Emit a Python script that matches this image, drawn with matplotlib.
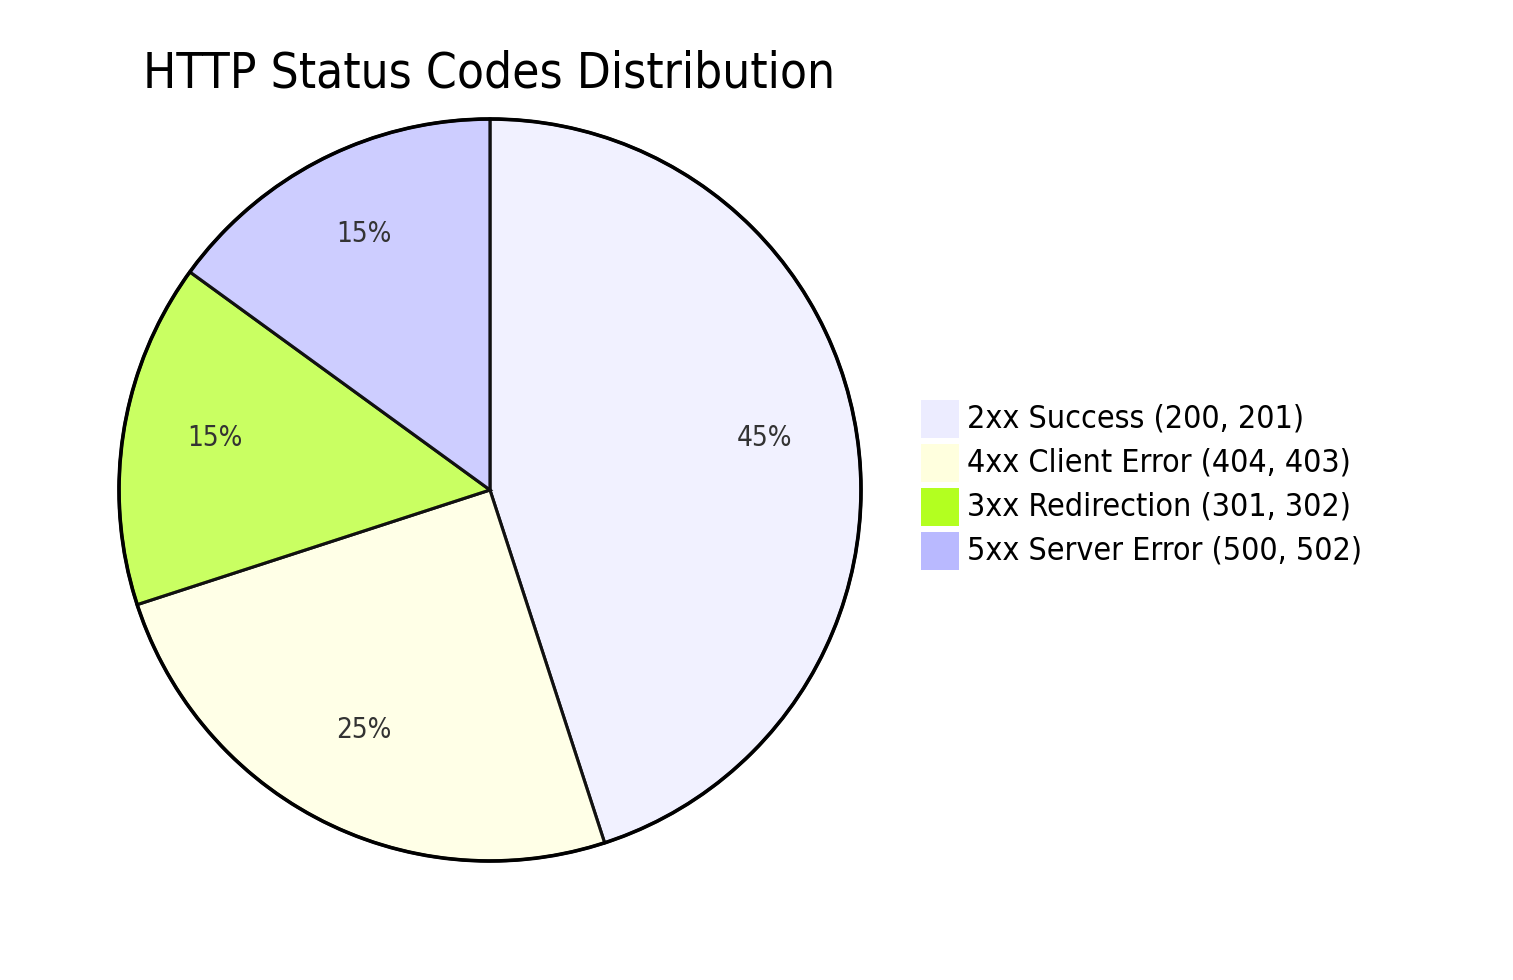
import matplotlib
matplotlib.use("Agg")
import matplotlib.pyplot as plt
from matplotlib.patches import Rectangle, Circle
from matplotlib.colors import to_rgba

labels = ["2xx Success (200, 201)", "4xx Client Error (404, 403)",
          "3xx Redirection (301, 302)", "5xx Server Error (500, 502)"]
values = [45, 25, 15, 15]
colors = ["#ECECFF", "#FFFFDE", "#B3FF20", "#B9B9FF"]
title = "HTTP Status Codes Distribution"

W, H = 1513, 980
plt.rcParams.update({"font.family": "DejaVu Sans", "font.stretch": "condensed"})
fig = plt.figure(figsize=(W / 100, H / 100), dpi=100)

cx, cy, r = 490, 490, 371
ax = fig.add_axes([(cx - r) / W, (H - cy - r) / H, 2 * r / W, 2 * r / H])
wedges, texts, autotexts = ax.pie(
    values, colors=[to_rgba(c, 0.7) for c in colors], startangle=90,
    counterclock=False, autopct=lambda p: f"{p:.0f}%", pctdistance=0.75,
    wedgeprops=dict(linewidth=2.2, edgecolor="#111111"),
    textprops=dict(fontsize=20, color="#333333"))
for t in autotexts:
    t.set_va("baseline")
ax.add_patch(Circle((0, 0), 1.0, fill=False, lw=2.6, ec="black", clip_on=False))
ax.set_xlim(-1, 1); ax.set_ylim(-1, 1)
ax.set_aspect("equal"); ax.axis("off")

fig.text(143 / W, 1 - 73 / H, title, fontsize=35.5, va="center", ha="left")

# legend
for i, (lab, col) in enumerate(zip(labels, colors)):
    y0 = 400 + i * 44
    fig.patches.append(Rectangle((921 / W, 1 - (y0 + 38) / H), 38 / W, 38 / H,
                                 transform=fig.transFigure, fc=col, ec="none"))
    fig.text(967 / W, 1 - (y0 + 19) / H, lab, fontsize=23, va="center", ha="left")

fig.savefig("out.png", dpi=100, facecolor="white")
